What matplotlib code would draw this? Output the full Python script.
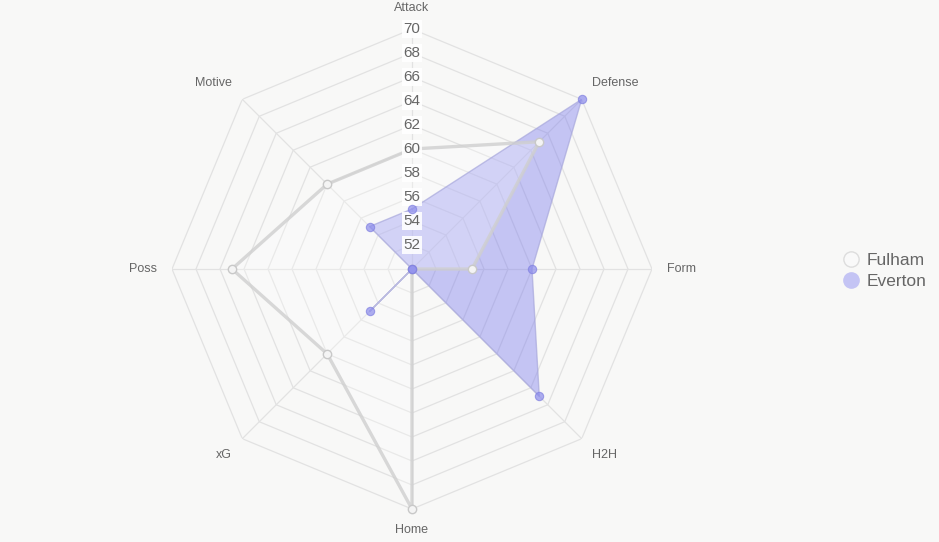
import numpy as np
import matplotlib.pyplot as plt
from matplotlib.lines import Line2D

plt.rcParams['font.family'] = ['Liberation Sans', 'DejaVu Sans']

categories = ['Attack', 'Defense', 'Form', 'H2H', 'Home', 'xG', 'Poss', 'Motive']
fulham = [60, 65, 55, 50, 70, 60, 65, 60]
everton = [55, 70, 60, 65, 50, 55, 50, 55]
ticks = [52, 54, 56, 58, 60, 62, 64, 66, 68, 70]
rmin, rmax = 50, 70

bg = '#f8f8f7'
fig = plt.figure(figsize=(9.39, 5.42), dpi=100, facecolor=bg)
ax = fig.add_axes([172 / 939, 33 / 542, 480 / 939, 480 / 542], projection='polar')
ax.set_facecolor('none')
ax.set_theta_zero_location('N')
ax.set_theta_direction(-1)
ax.set_ylim(rmin, rmax)
ax.grid(False)
ax.spines['polar'].set_visible(False)
ax.set_xticks([])
ax.set_yticks([])

n = len(categories)
theta = np.arange(n) * 2 * np.pi / n
tc = np.append(theta, theta[0])

# octagon grid
for r in ticks:
    ax.plot(tc, [r] * (n + 1), color='#e2e2e2', lw=0.9, zorder=1)
for t in theta:
    ax.plot([t, t], [rmin, rmax], color='#e2e2e2', lw=0.9, zorder=1)


def closed(v):
    return np.append(v, v[0])


# Fulham
ax.fill(tc, closed(fulham), color='white', alpha=0.25, lw=0, zorder=3)
ax.plot(tc, closed(fulham), color='#cfcfcf', lw=2.4, alpha=0.8, zorder=4)
ax.plot(theta, fulham, 'o', ms=6, mfc='#f4f4f4', mec='#c8c8c8', mew=1.0,
        zorder=5, clip_on=False)

# Everton
ax.fill(tc, closed(everton), color='#7777ee', alpha=0.4, lw=0, zorder=2)
ax.plot(tc, closed(everton), color='#a8a8dc', lw=1.0, alpha=0.7, zorder=3)
ax.plot(theta, everton, 'o', ms=6, mfc='#8c8cec', mec='#8080e0', mew=0.8,
        alpha=0.7, zorder=6, clip_on=False)

# radial tick labels
for r in ticks:
    ax.text(0, r, str(r), ha='center', va='center', fontsize=11, color='#666666',
            zorder=5.5, bbox=dict(boxstyle='square,pad=0.1', fc='white', ec='none', alpha=0.9))

# category labels
align = [('center', 'bottom'), ('left', 'bottom'), ('left', 'center'), ('left', 'top'),
         ('center', 'top'), ('right', 'top'), ('right', 'center'), ('right', 'bottom')]
for t, lab, (ha, va) in zip(theta, categories, align):
    ax.text(t, 71.25, lab, ha=ha, va=va, fontsize=9, color='#666666')

handles = [
    Line2D([], [], ls='none', marker='o', ms=11, mfc='#f9f9f9', mec='#dddddd', mew=1.0),
    Line2D([], [], ls='none', marker='o', ms=11, mfc='#c4c4f4', mec='#c4c4f4', mew=1.0),
]
fig.legend(handles, ['Fulham', 'Everton'], loc='center left', bbox_to_anchor=(0.88, 0.5),
           frameon=False, fontsize=12.5, labelcolor='#666666', handletextpad=0.4,
           labelspacing=0.3, handlelength=1.0)

fig.savefig('out.png', dpi=100, facecolor=bg)
